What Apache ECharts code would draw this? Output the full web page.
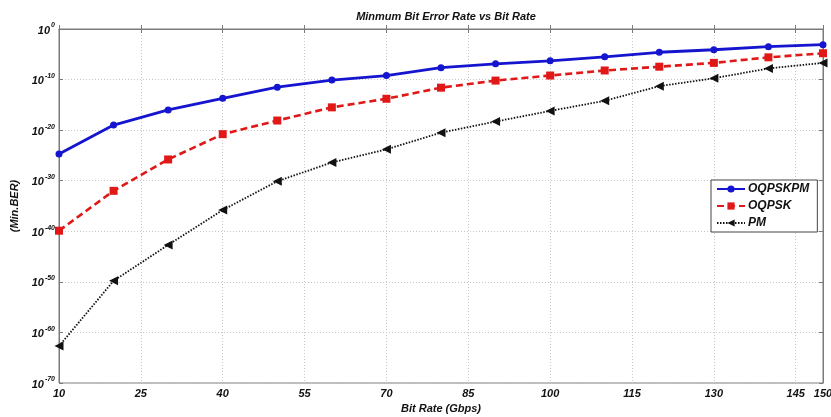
<!DOCTYPE html>
<html>
<head>
<meta charset="utf-8">
<script src="https://cdn.jsdelivr.net/npm/echarts@6/dist/echarts.min.js"></script>
<style>html,body{margin:0;padding:0;background:#fff}#c{width:831px;height:417px}</style>
</head>
<body>
<div id="c"></div>
<script>
const bitRates = [10, 20, 30, 40, 50, 60, 70, 80, 90, 100, 110, 120, 130, 140, 150];
const oqpskpm = [2.0e-25, 1.0e-19, 1.0e-16, 2.0e-14, 3.2e-12, 7.9e-11, 6.3e-10, 2.2e-8, 1.3e-7, 5.0e-7, 3.2e-6, 2.5e-5, 7.9e-5, 3.2e-4, 7.9e-4];
const oqpsk   = [1.3e-40, 1.0e-32, 1.6e-26, 1.6e-21, 7.9e-19, 3.2e-16, 1.6e-14, 2.5e-12, 6.3e-11, 6.3e-10, 6.3e-9, 3.5e-8, 2.0e-7, 2.5e-6, 1.6e-5];
const pm      = [2.0e-63, 1.6e-50, 2.0e-43, 1.6e-36, 7.9e-31, 4.0e-27, 1.6e-24, 3.2e-21, 5.0e-19, 6.3e-17, 6.3e-15, 5.0e-12, 1.8e-10, 1.6e-8, 2.0e-7];
const seriesNames = ['OQPSKPM', 'OQPSK', 'PM'];
const titleText = 'Minmum Bit Error Rate vs Bit Rate';
const xName = 'Bit Rate (Gbps)';
const yName = '(Min.BER)';

const FONT = '"Liberation Sans", Arial, sans-serif';
const pair = (ys) => bitRates.map((x, i) => [x, ys[i]]);

const chart = echarts.init(document.getElementById('c'), null, {renderer: 'canvas'});
const baseText = {fontFamily: FONT, fontWeight: 'bold', fontStyle: 'italic', color: '#111'};
const axisGray = '#7a7a7a';

chart.setOption({
  animation: false,
  backgroundColor: '#fff',
  title: {
    text: titleText, left: 441, top: 6, textAlign: 'center',
    textStyle: Object.assign({}, baseText, {fontSize: 11})
  },
  grid: {left: 59, right: 8, top: 29, bottom: 34, show: true, borderColor: axisGray, borderWidth: 1, backgroundColor: '#fff', containLabel: false, outerBoundsMode: 'none'},
  legend: {
    orient: 'vertical', left: 711, top: 180,
    data: seriesNames,
    backgroundColor: '#fff', borderColor: '#444', borderWidth: 1,
    padding: [3, 8, 3, 5], itemGap: 5, itemWidth: 28, itemHeight: 9,
    textStyle: Object.assign({}, baseText, {fontSize: 12, padding: [0, 0, 0, -2]})
  },
  xAxis: [{
    type: 'value', min: 10, max: 150, interval: 15,
    name: xName, nameLocation: 'middle', nameGap: 19,
    nameTextStyle: Object.assign({}, baseText, {fontSize: 11}),
    axisLine: {show: true, lineStyle: {color: axisGray}},
    axisTick: {show: true, inside: true, length: 4, lineStyle: {color: axisGray}},
    axisLabel: Object.assign({}, baseText, {fontSize: 11, margin: 5}),
    splitLine: {show: true, lineStyle: {color: '#c8c8c8', type: [1, 2]}}
  }, {
    type: 'value', min: 10, max: 150, interval: 15, position: 'top',
    axisLine: {show: true, lineStyle: {color: axisGray}},
    axisTick: {show: true, inside: true, length: 4, lineStyle: {color: axisGray}},
    axisLabel: {show: false}, splitLine: {show: false}
  }],
  yAxis: [{
    type: 'log', logBase: 10, max: 1, splitNumber: 7,
    name: yName, nameLocation: 'middle', nameGap: 31, nameRotate: 90,
    nameTextStyle: Object.assign({}, baseText, {fontSize: 11}),
    axisLine: {show: true, lineStyle: {color: axisGray}},
    axisTick: {show: true, inside: true, length: 4, lineStyle: {color: axisGray}},
    axisLabel: {
      margin: 4,
      formatter: function (v) {
        const e = Math.round(Math.log10(v));
        return '{b|10}{s|' + (e === 0 ? '0' : String(e)) + '}';
      },
      rich: {
        b: Object.assign({}, baseText, {fontSize: 11, verticalAlign: 'bottom', lineHeight: 14}),
        s: Object.assign({}, baseText, {fontSize: 7, verticalAlign: 'top', lineHeight: 14, padding: [0, 0, 6, 1]})
      }
    },
    splitLine: {show: true, lineStyle: {color: '#c8c8c8', type: [1, 2]}}
  }, {
    type: 'value', min: -70, max: 0, interval: 10, position: 'right',
    axisLine: {show: true, lineStyle: {color: axisGray}},
    axisTick: {show: true, inside: true, length: 4, lineStyle: {color: axisGray}},
    axisLabel: {show: false}, splitLine: {show: false}
  }],
  series: [{
    name: seriesNames[0], type: 'line', data: pair(oqpskpm),
    symbol: 'circle', symbolSize: 7,
    lineStyle: {color: '#1515d0', width: 2.8, type: 'solid'},
    itemStyle: {color: '#1515d0'}, z: 4
  }, {
    name: seriesNames[1], type: 'line', data: pair(oqpsk),
    symbol: 'rect', symbolSize: 8,
    lineStyle: {color: '#e01818', width: 2.6, type: [7, 4]},
    itemStyle: {color: '#e01818'}, z: 3
  }, {
    name: seriesNames[2], type: 'line', data: pair(pm),
    symbol: 'triangle', symbolRotate: 90, symbolSize: 9,
    lineStyle: {color: '#111', width: 1.8, type: [1.5, 1.5]},
    itemStyle: {color: '#111'}, z: 2
  }]
});
</script>
</body>
</html>
